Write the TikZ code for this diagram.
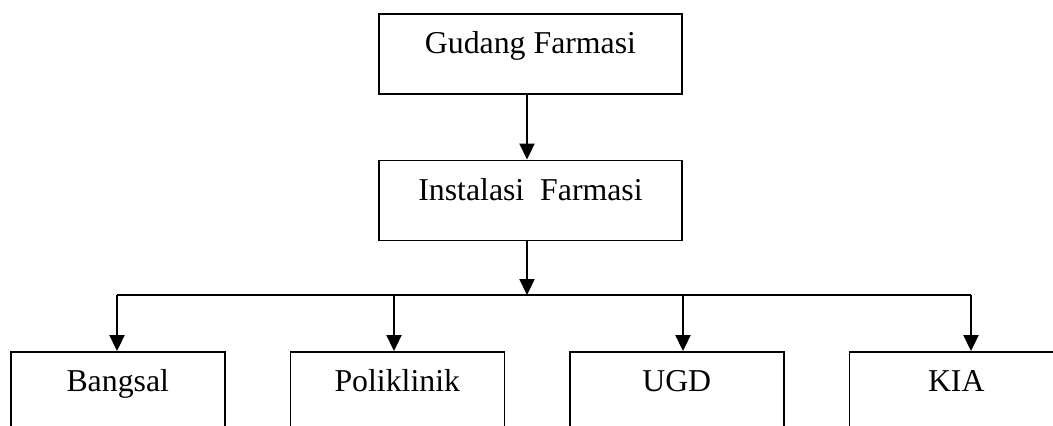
\documentclass[tikz,border=0pt]{standalone}
\usepackage{fontspec}
\setmainfont{Liberation Serif}
\usetikzlibrary{arrows.meta,positioning,calc}

\tikzset{
  unitbox/.style={draw,rectangle,line width=0.75pt,inner xsep=0pt,inner ysep=0pt,
    text height=20pt,text depth=20pt,font=\fontsize{15.9}{18}\selectfont},
  topbox/.style={unitbox,minimum width=151.5pt},
  subbox/.style={unitbox,minimum width=107pt,text depth=30pt},
  flow/.style={line width=1.1pt,-{Triangle[width=7.5pt,length=8pt]}}
}

\begin{document}
\begin{tikzpicture}[x=0.5pt,y=-0.5pt]
      \useasboundingbox (0,0) rectangle (1053,425);
      \clip (0,0) rectangle (1053,425);

      \node[topbox,anchor=north] (gudang) at (530.5,13) {Gudang Farmasi};
      \node[topbox,below = 32.5pt of gudang] (instalasi) {Instalasi\ \ Farmasi};

      \node[subbox,anchor=north west] (bangsal) at (10,351) {Bangsal};
      \node[subbox,right = 32pt of bangsal] (poli) {Poliklinik};
      \node[subbox,right = 32pt of poli] (ugd) {UGD};
      \node[subbox,right = 32pt of ugd] (kia) {KIA};

      % bus line
      \coordinate (bus) at (527,295);
      \coordinate (d1) at (117,295);
      \coordinate (d2) at (394,295);
      \coordinate (d3) at (683,295);
      \coordinate (d4) at (971,295);

      \draw[flow] (gudang.south -| bus)--(instalasi.north -| bus);
      \draw[flow] (instalasi.south -| bus)--(bus);
      \draw[line width=1.1pt] (d1)--(d4);
      \foreach \d/\b in {d1/bangsal,d2/poli,d3/ugd,d4/kia}
        \draw[flow] (\d)--(\d |- \b.north);
    \end{tikzpicture}
\end{document}
